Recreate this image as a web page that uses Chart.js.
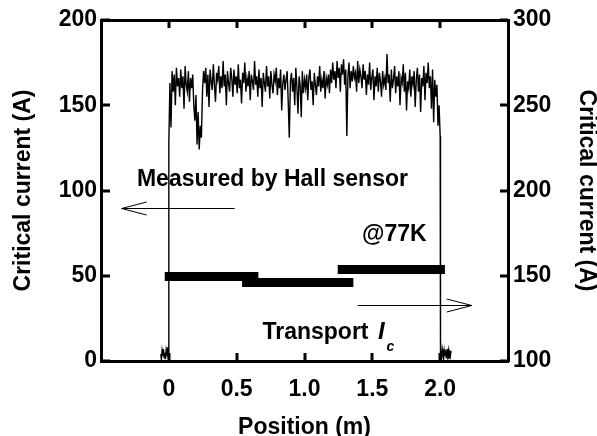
<!DOCTYPE html>
<html>
<head>
<meta charset="utf-8">
<script src="https://cdn.jsdelivr.net/npm/chart.js@4.4.1/dist/chart.umd.min.js"></script>
<style>
  html, body { margin: 0; padding: 0; background: #fff; }
  #wrap { width: 597px; height: 436px; position: relative; }
</style>
</head>
<body>
<div id="wrap"><canvas id="icChart"></canvas></div>
<script>
// Hall sensor scan: lead-in (tape outside the sensor), the tape itself, lead-out
const hallLeadX = [-0.06, -0.055, -0.05, -0.045, -0.04, -0.035, -0.03, -0.025, -0.02, -0.015, -0.01, -0.005, 0];
const hallLeadIc = [4, 1, 6, 3, 7, 2, 5, 1, 6, 3, 8, 2, 5];

const hallStart = 0;      // m
const hallStep = 0.008;   // m between readings
const hallIc = [
  128, 163, 137, 170, 158, 168, 150, 172, 161, 166,
  155, 171, 160, 167, 148, 173, 162, 158, 170, 152,
  166, 160, 168, 150, 141, 156, 127, 146, 124, 138,
  131, 158, 170, 163, 172, 155, 168, 149, 171, 164,
  159, 174, 162, 152, 169, 165, 173, 157, 167, 160,
  176, 161, 168, 150, 170, 163, 158, 172, 166, 155,
  171, 162, 167, 157, 174, 160, 165, 151, 169, 163,
  175, 158, 166, 161, 170, 153, 168, 164, 159, 176,
  162, 167, 155, 171, 160, 166, 149, 169, 163, 158,
  173, 161, 167, 154, 170, 162, 157, 168, 164, 172,
  156, 166, 160, 171, 147, 163, 168, 159, 165, 170,
  152, 131, 164, 169, 158, 166, 150, 172, 161, 145,
  167, 162, 143, 170, 157, 165, 160, 168, 153, 166,
  171, 159, 164, 150, 169, 162, 156, 167, 161, 173,
  158, 165, 160, 170, 154, 166, 162, 168, 157, 171,
  163, 175, 165, 170, 160, 176, 166, 172, 158, 174,
  168, 177, 162, 171, 132, 167, 175, 160, 170, 164,
  173, 166, 169, 158, 176, 163, 171, 167, 160, 174,
  165, 170, 156, 168, 162, 175, 159, 166, 171, 153,
  167, 161, 172, 158, 169, 164, 155, 170, 162, 166,
  159, 180, 163, 168, 152, 171, 160, 165, 173, 157,
  167, 161, 170, 150, 166, 163, 174, 158, 169, 147,
  164, 160, 171, 155, 167, 162, 170, 149, 165, 172,
  158, 168, 146, 166, 161, 173, 153, 169, 163, 175,
  160, 167, 148, 171, 140, 165, 155, 162, 138, 150,
  132
];

const hallTailX = [2.0, 2.005, 2.01, 2.015, 2.02, 2.025, 2.03, 2.035, 2.04, 2.045, 2.05, 2.055, 2.06, 2.065, 2.07, 2.075, 2.08];
const hallTailIc = [3, 6, 2, 7, 4, 1, 6, 3, 5, 2, 7, 3, 6, 1, 5, 3, 6];

// transport Ic of the three measured sections (right axis)
const transportStart = [-0.03, 0.54, 1.245];
const transportEnd = [0.66, 1.36, 2.035];
const transportIc = [149.5, 146, 153.7];

const xTicks = [0, 0.5, 1.0, 1.5, 2.0];

// arrows telling which axis belongs to which data
const hallArrow = { from: 0.485, to: -0.348, y: 90, axis: "y" };
const transportArrow = { from: 1.392, to: 2.233, y: 133, axis: "yRight" };

const FONT = "'Liberation Sans', Arial, Helvetica, sans-serif";
const font = { family: FONT, size: 23, weight: "bold" };

function hallPoints() {
  const pts = [];
  hallLeadX.forEach((x, i) => pts.push({ x, y: hallLeadIc[i] }));
  hallIc.forEach((v, i) => pts.push({ x: hallStart + i * hallStep, y: v }));
  hallTailX.forEach((x, i) => pts.push({ x, y: hallTailIc[i] }));
  return pts;
}

const datasets = [
  {
    label: "Hall",
    data: hallPoints(),
    yAxisID: "y",
    borderColor: "#000",
    borderWidth: 1.4,
    pointRadius: 0,
    tension: 0,
  },
];
transportIc.forEach((v, i) => {
  datasets.push({
    label: "Transport " + (i + 1),
    data: [
      { x: transportStart[i], y: v },
      { x: transportEnd[i], y: v },
    ],
    yAxisID: "yRight",
    borderColor: "#000",
    borderWidth: 9,
    borderCapStyle: "butt",
    pointRadius: 0,
  });
});

// inward tick marks on all four sides
const innerTicks = {
  id: "innerTicks",
  afterDraw(chart) {
    const { ctx, chartArea: a, scales } = chart;
    ctx.save();
    ctx.strokeStyle = "#000";
    ctx.lineWidth = 3;
    ctx.beginPath();
    xTicks.forEach((v) => {
      const px = Math.round(scales.x.getPixelForValue(v));
      ctx.moveTo(px, a.bottom);
      ctx.lineTo(px, a.bottom - 8);
      ctx.moveTo(px, a.top);
      ctx.lineTo(px, a.top + 8);
    });
    scales.y.ticks.forEach((t) => {
      const py = Math.round(scales.y.getPixelForValue(t.value));
      ctx.moveTo(a.left, py);
      ctx.lineTo(a.left + 9, py);
    });
    scales.yRight.ticks.forEach((t) => {
      const py = Math.round(scales.yRight.getPixelForValue(t.value));
      ctx.moveTo(a.right, py);
      ctx.lineTo(a.right - 8, py);
    });
    ctx.stroke();
    ctx.restore();
  },
};

function drawArrow(ctx, chart, arr) {
  const xs = chart.scales.x;
  const ys = chart.scales[arr.axis];
  const x0 = xs.getPixelForValue(arr.from);
  const x1 = xs.getPixelForValue(arr.to);
  const y = Math.round(ys.getPixelForValue(arr.y)) + 0.5;
  const dir = x1 > x0 ? -1 : 1;
  ctx.beginPath();
  ctx.moveTo(x0, y);
  ctx.lineTo(x1, y);
  ctx.moveTo(x1 + dir * 25, y - 6.5);
  ctx.lineTo(x1, y);
  ctx.lineTo(x1 + dir * 25, y + 6.5);
  ctx.stroke();
}

// text notes and arrows, placed in data coordinates
const notes = {
  id: "notes",
  afterDatasetsDraw(chart) {
    const { ctx, scales } = chart;
    const px = (v) => scales.x.getPixelForValue(v);
    const py = (v) => scales.y.getPixelForValue(v);
    ctx.save();
    ctx.strokeStyle = "#000";
    ctx.lineWidth = 1;
    drawArrow(ctx, chart, hallArrow);
    drawArrow(ctx, chart, transportArrow);

    ctx.fillStyle = "#000";
    ctx.textBaseline = "alphabetic";
    ctx.textAlign = "left";
    ctx.font = "bold 23px " + FONT;
    ctx.fillText("Measured by Hall sensor", px(-0.235), py(102.6));
    ctx.fillText("@77K", px(1.424), py(70.4));

    const tx = px(0.69);
    const ty = py(12.9);
    ctx.fillText("Transport ", tx, ty);
    let w = ctx.measureText("Transport ").width;
    ctx.font = "italic bold 24px " + FONT;
    ctx.fillText("I", tx + w + 3, ty);
    w += ctx.measureText("I").width + 3;
    ctx.font = "italic bold 14px " + FONT;
    ctx.fillText("c", tx + w + 2, ty + 12);
    ctx.restore();
  },
};

new Chart(document.getElementById("icChart"), {
  type: "line",
  data: { datasets },
  options: {
    responsive: true,
    maintainAspectRatio: false,
    animation: false,
    events: [],
    layout: { padding: 0 },
    plugins: {
      legend: { display: false },
      tooltip: { enabled: false },
    },
    scales: {
      x: {
        type: "linear",
        position: "bottom",
        min: -0.5,
        max: 2.5,
        afterBuildTicks: (s) => {
          s.ticks = xTicks.map((v) => ({ value: v }));
        },
        afterFit: (s) => {
          s.height = 75;
        },
        grid: { display: false, drawTicks: false },
        border: { display: true, width: 3, color: "#000" },
        ticks: {
          padding: 15,
          color: "#000",
          font,
          maxRotation: 0,
          autoSkip: false,
          callback: (v) => (v === 0 ? "0" : Number(v).toFixed(1)),
        },
        title: {
          display: true,
          text: "Position (m)",
          color: "#000",
          font: { ...font, lineHeight: 1 },
          padding: { top: 0, bottom: -3 },
        },
      },
      xTop: {
        type: "linear",
        position: "top",
        min: -0.5,
        max: 2.5,
        afterFit: (s) => {
          s.height = 20;
        },
        grid: { display: false, drawTicks: false },
        border: { display: true, width: 3, color: "#000" },
        ticks: { display: false },
      },
      y: {
        position: "left",
        min: 0,
        max: 200,
        afterFit: (s) => {
          s.width = 101;
        },
        grid: { display: false, drawTicks: false },
        border: { display: true, width: 3, color: "#000" },
        ticks: { stepSize: 50, padding: 4, color: "#000", font },
        title: {
          display: true,
          text: "Critical current (A)",
          color: "#000",
          font: { ...font, lineHeight: 1 },
          padding: { top: 12, bottom: 0 },
        },
      },
      yRight: {
        position: "right",
        min: 100,
        max: 300,
        afterFit: (s) => {
          s.width = 89;
        },
        grid: { display: false, drawTicks: false },
        border: { display: true, width: 3, color: "#000" },
        ticks: { stepSize: 50, padding: 5, color: "#000", font },
        title: {
          display: true,
          text: "Critical current (A)",
          color: "#000",
          font: { ...font, lineHeight: 1 },
          padding: { top: -1, bottom: 0 },
        },
      },
    },
  },
  plugins: [innerTicks, notes],
});
</script>
</body>
</html>
